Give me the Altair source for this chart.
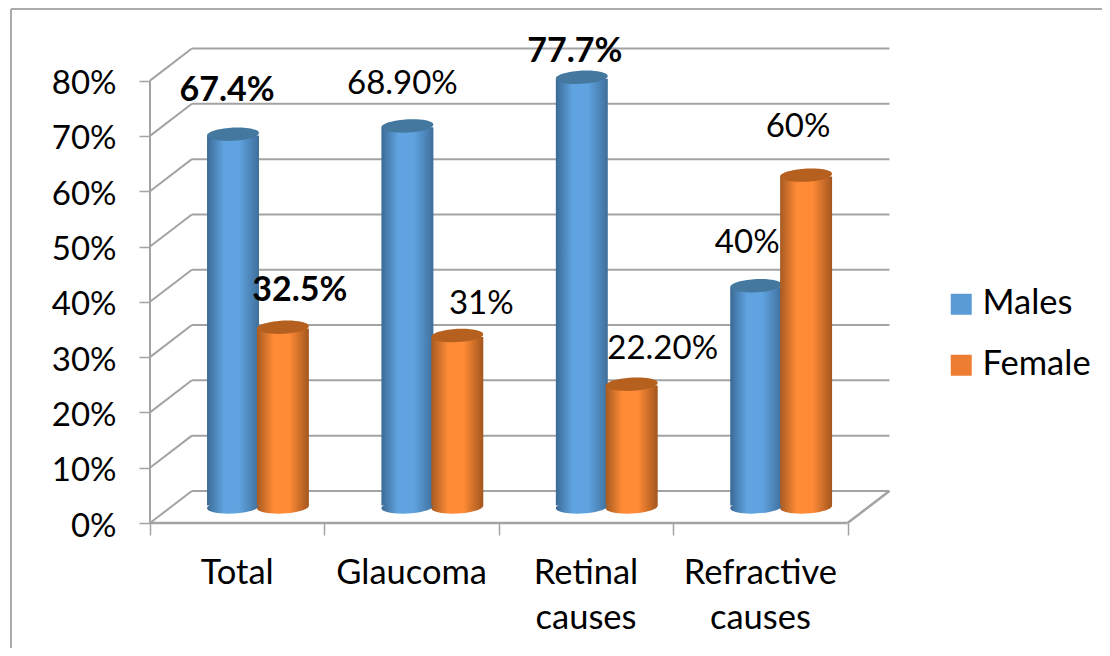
import altair as alt
import pandas as pd

categories = ["Total", "Glaucoma", "Retinal\ncauses", "Refractive\ncauses"]
males = [67.4, 68.9, 77.7, 40]
female = [32.5, 31, 22.2, 60]
male_labels = ["67.4%", "68.90%", "77.7%", "40%"]
female_labels = ["32.5%", "31%", "22.20%", "60%"]
male_bold = [True, False, True, False]
female_bold = [True, False, False, False]
y_ticks = [0, 10, 20, 30, 40, 50, 60, 70, 80]
x_ticks = [0, 1, 2, 3, 4]

FONT = "Lato"
GRID = "#a3a3a3"
BLUE = "#5b9bd5"
ORANGE = "#ed7d31"
# 3-D wall depth in data units, and cylinder placement inside a category
DX, DY = 0.24, 5.8
M0, F0, BW = 0.327, 0.613, 0.298
TILT = 0.25
px, py = 1 / 174.4, 1 / 5.53

xs = alt.Scale(domain=[0, 742 * px], nice=False, zero=False)
ys = alt.Scale(domain=[0, 476 * py], nice=False, zero=False)
AX = alt.Axis(values=x_ticks, labels=False, domain=False, grid=False, title=None,
              tickSize=12, tickColor=GRID, tickWidth=1.5)
AY = alt.Axis(values=y_ticks, domain=False, grid=False, title=None, tickSize=11, tickColor=GRID,
              tickWidth=1.5, labelExpr="datum.value + '%'", labelFont=FONT, labelFontSize=33,
              labelColor="#000000", labelPadding=23, labelOffset=3)


def XE(f):
    return alt.X(f, scale=xs, axis=AX)


def YE(f):
    return alt.Y(f, scale=ys, axis=AY)


X, Y = XE("x:Q"), YE("y:Q")


def grad(edge_l, mid, edge_r):
    return alt.LinearGradient(
        gradient="linear", x1=0, x2=1, y1=0, y2=0,
        stops=[
            alt.GradientStop(offset=0, color=edge_l),
            alt.GradientStop(offset=0.32, color=mid),
            alt.GradientStop(offset=0.62, color=mid),
            alt.GradientStop(offset=1, color=edge_r),
        ],
    )


ELLIPSE = ("M-0.9986,0.052 A1,0.25 -3 1 1 0.9986,-0.052 "
           "A1,0.25 -3 1 1 -0.9986,0.052 Z")

rows = []
for i, (m, f) in enumerate(zip(males, female)):
    rows.append(dict(i=i, v=m, s="Males", x0=i + M0, x1=i + M0 + BW))
    rows.append(dict(i=i, v=f, s="Female", x0=i + F0, x1=i + F0 + BW))
bars = pd.DataFrame(rows)
bars["xc"] = (bars.x0 + bars.x1) / 2
bars["top"] = bars.v + DY / 2
bars["base"] = DY / 2
bars["rtop"] = bars.top - TILT
bars["rbase"] = bars.base + TILT

# Walls
front = pd.DataFrame({"x": [0.0 for _ in y_ticks], "x2": [DX for _ in y_ticks],
                      "y": y_ticks, "y2": [t + DY for t in y_ticks]})
back = pd.DataFrame({"x": [DX for _ in y_ticks], "x2": [4 + DX for _ in y_ticks],
                     "y": [t + DY for t in y_ticks]})
floor = pd.DataFrame({"x": [0.0, 4.0], "x2": [4.0, 4 + DX], "y": [0.0, 0.0], "y2": [0.0, DY]})
axis_line = pd.DataFrame({"x": [0.0], "y": [y_ticks[0]], "y2": [y_ticks[-1]]})
# Outer chart frame, running off the right and bottom of the page
frame_v = pd.DataFrame({"x": [-139 * px], "y": [514 * py], "y2": [-125 * py]})
frame_h = pd.DataFrame({"x": [-139 * px], "x2": [952 * px], "y": [514 * py]})

layers = []
layers.append(alt.Chart(back).mark_rule(color=GRID, strokeWidth=2).encode(x=X, x2="x2:Q", y=Y))
layers.append(alt.Chart(front).mark_rule(color=GRID, strokeWidth=2).encode(x=X, x2="x2:Q", y=Y, y2="y2:Q"))
layers.append(alt.Chart(floor).mark_rule(color=GRID, strokeWidth=2.5).encode(x=X, x2="x2:Q", y=Y, y2="y2:Q"))
layers.append(alt.Chart(axis_line).mark_rule(color=GRID, strokeWidth=2).encode(x=X, y=Y, y2="y2:Q"))
layers.append(alt.Chart(frame_v).mark_rule(color="#ababab", strokeWidth=2).encode(x=X, y=Y, y2="y2:Q"))
layers.append(alt.Chart(frame_h).mark_rule(color="#ababab", strokeWidth=2).encode(x=X, x2="x2:Q", y=Y))

styles = {
    "Males": (grad("#3b6a95", "#5fa3e0", "#3f6f9b"), "#44789f"),
    "Female": (grad("#a65a22", "#ff8b36", "#a3561e"), "#b5601f"),
}
for s, (body, cap) in styles.items():
    d = bars[bars.s == s]
    layers.append(alt.Chart(d).mark_point(shape=ELLIPSE, size=2704, filled=True, fill=body, opacity=1, strokeWidth=0)
                  .encode(x=XE("xc:Q"), y=YE("base:Q")))
    layers.append(alt.Chart(d).mark_rect(fill=body, opacity=1)
                  .encode(x=XE("x0:Q"), x2="x1:Q", y=YE("rbase:Q"), y2="rtop:Q"))
    layers.append(alt.Chart(d).mark_point(shape=ELLIPSE, size=2704, filled=True, fill=cap, opacity=1, strokeWidth=0)
                  .encode(x=XE("xc:Q"), y=YE("top:Q")))

# Category labels
cat_df = pd.DataFrame({"x": [i + 0.5 for i in range(4)], "y": [0] * 4, "t": categories})
layers.append(alt.Chart(cat_df).mark_text(font=FONT, fontSize=34.5, color="#000000", baseline="top",
                                          align="center", lineBreak="\n", lineHeight=45, dy=34)
              .encode(x=X, y=Y, text="t:N"))

# Data labels: placed by hand next to each cylinder, in pixels from the cap centre
nudge_m = [(-6, 43), (-5, 42), (-7, 25), (-9, 43)]
nudge_f = [(17, 36), (24, 32), (31, 35), (-8, 48)]
lab = []
for i in range(4):
    for vals, txts, bolds, x0, nud in ((males, male_labels, male_bold, M0, nudge_m),
                                       (female, female_labels, female_bold, F0, nudge_f)):
        lab.append(dict(x=i + x0 + BW / 2 + nud[i][0] * px, y=vals[i] + DY / 2 + nud[i][1] * py,
                        t=txts[i], b=bolds[i]))
lab = pd.DataFrame(lab)
for bold, weight, size in ((True, "bold", 34), (False, "normal", 33)):
    layers.append(alt.Chart(lab[lab.b == bold]).mark_text(font=FONT, fontSize=size, fontWeight=weight,
                                                          color="#000000", baseline="middle", align="center")
                  .encode(x=X, y=Y, text="t:N"))

# Legend
leg = pd.DataFrame({"x": [0, 0], "y": [0, 0], "s": ["Males", "Female"]})
layers.append(alt.Chart(leg).mark_square(size=0, opacity=1).encode(
    x=X, y=Y,
    color=alt.Color("s:N", scale=alt.Scale(domain=["Males", "Female"], range=[BLUE, ORANGE]),
                    legend=alt.Legend(title=None, orient="none", legendX=794, legendY=240, padding=0,
                                      symbolType="square", symbolSize=441, symbolOpacity=1, symbolStrokeWidth=0,
                                      labelFont=FONT, labelFontSize=34.5, labelColor="#000000",
                                      labelOffset=4, rowPadding=26, labelLimit=200)),
))

chart = alt.layer(*layers).properties(
    width=742, height=476,
    padding={"left": 142, "top": 39, "right": 210, "bottom": 125},
    autosize=alt.AutoSizeParams(type="none"),
    background="#ffffff",
).configure_view(stroke=None)

chart.save("out.html", embed_options={"renderer": "svg", "actions": False})
